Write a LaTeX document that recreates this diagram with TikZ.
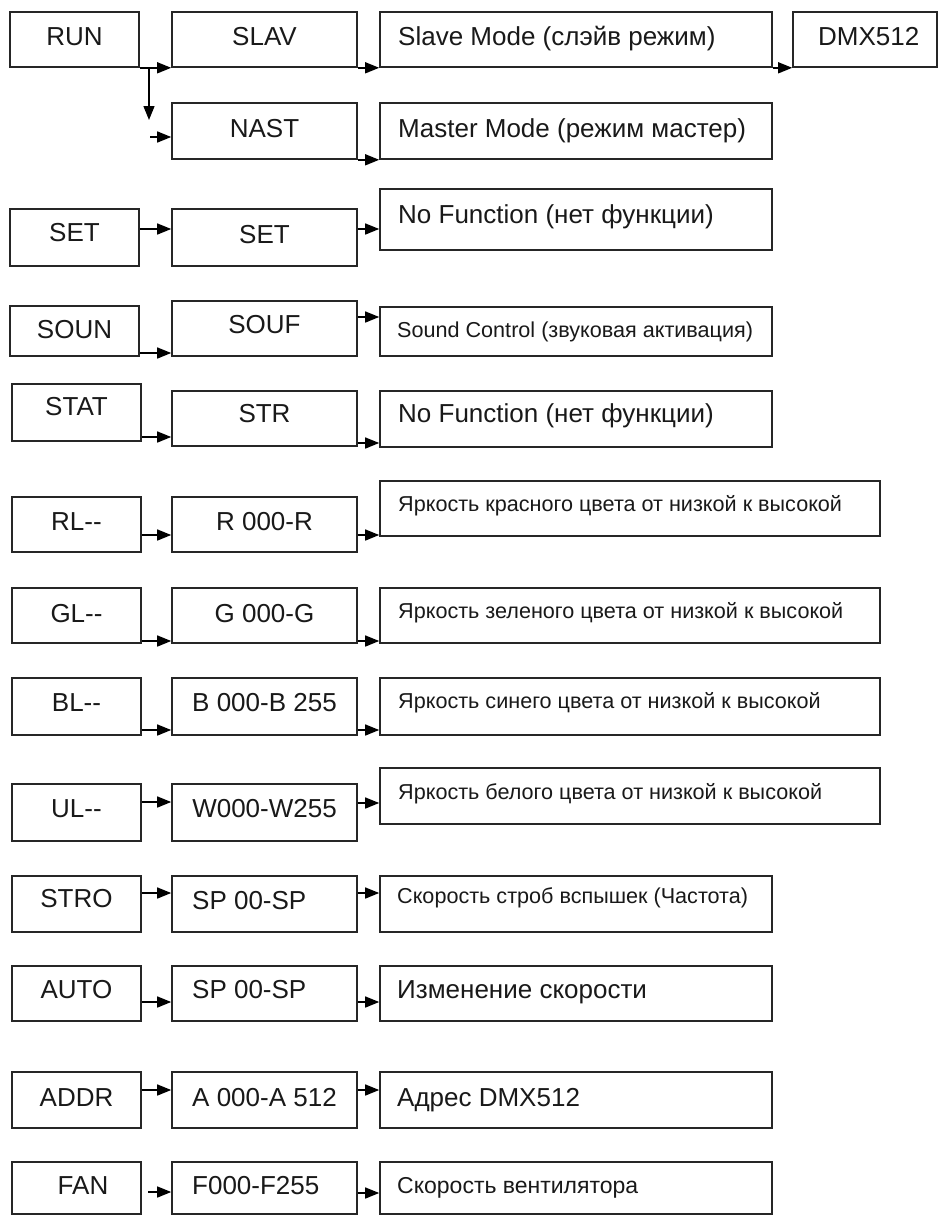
\documentclass[tikz,border=0pt]{standalone}
\usepackage{fontspec}
\setmainfont{Liberation Sans}
\usetikzlibrary{arrows.meta}
\newcommand\bx[5]{\node[boxst, minimum width={#4pt-#2pt}, minimum height={#5pt-#3pt}] (#1) at ({(#2+#4)/2},{(#3+#5)/2}) {};}
\begin{document}
\begin{tikzpicture}[x=1pt,y=-1pt,
  boxst/.style={draw=black!85, line width=1.6pt, inner sep=0pt, fill=white},
  big/.style={inner sep=0pt, font=\fontsize{26}{30}\selectfont, text=black!90},
  small/.style={inner sep=0pt, font=\fontsize{21.6}{26}\selectfont, text=black!90},
  mid/.style={inner sep=0pt, font=\fontsize{23}{27}\selectfont, text=black!90},
  arr/.style={line width=1.4pt, draw=black, -{Triangle[length=14pt,width=11pt]}}]
\useasboundingbox (0,0) rectangle (938,1216);
\fill[white] (0,0) rectangle (938,1216);
% ---- row RUN
\bx{RUN}{10}{12}{139}{67}
\bx{SLAV}{172}{12}{357}{67}
\bx{SLM}{380}{12}{772}{67}
\bx{DMX}{793}{12}{937}{67}
\node[big,anchor=base] (tRUN) at (74.5,45) {RUN};
\node[big,anchor=base] (tSLAV) at (264.5,45) {SLAV};
\node[big,anchor=base west] (tSLM) at (398,45) {Slave Mode (слэйв режим)};
\node[big,anchor=base west] (tDMX) at (818,45) {DMX512};
\bx{NAST}{172}{103}{357}{159}
\bx{MAS}{380}{103}{772}{159}
\node[big,anchor=base] (tNAST) at (264.5,137) {NAST};
\node[big,anchor=base west] (tMAS) at (398,137) {Master Mode (режим мастер)};
\draw[arr] (RUN.south east) -- (SLAV.south west);
\draw[arr] (SLAV.south east) -- (SLM.south west);
\draw[arr] (SLM.south east) -- (DMX.south west);
\coordinate (v1) at (149,67);
\coordinate (v2) at (149,120);
\draw[arr] (v1) -- (v2);
\coordinate (n0) at (150,137);
\draw[arr] (n0) -- (NAST.west |- n0);
\draw[arr] (NAST.south east) -- (MAS.south west);
% ---- row SET
\bx{SETL}{10}{209}{139}{266}
\bx{SETM}{172}{209}{357}{266}
\bx{NF1}{380}{189}{772}{250}
\node[big,anchor=base] (tSETL) at (74.5,241) {SET};
\node[big,anchor=base] (tSETM) at (264.5,243) {SET};
\node[big,anchor=base west] (tNF1) at (398,223) {No Function (нет функции)};
\draw[arr] (SETL.east |- 0,229) -- (SETM.west |- 0,229);
\draw[arr] (SETM.east |- 0,229) -- (NF1.west |- 0,229);
% ---- row SOUN
\bx{SOUN}{10}{306}{139}{356}
\bx{SOUF}{172}{301}{357}{356}
\bx{SND}{380}{307}{772}{356}
\node[big,anchor=base] (tSOUN) at (74.5,338) {SOUN};
\node[big,anchor=base] (tSOUF) at (264.5,333) {SOUF};
\node[small,anchor=base west] (tSND) at (397,337) {Sound Control (звуковая активация)};
\draw[arr] (SOUN.east |- 0,353) -- (SOUF.west |- 0,353);
\draw[arr] (SOUF.east |- 0,317) -- (SND.west |- 0,317);
% ---- row STAT
\bx{STAT}{12}{384}{141}{441}
\bx{STR}{172}{391}{357}{446}
\bx{NF2}{380}{391}{772}{447}
\node[big,anchor=base] (tSTAT) at (76.5,415) {STAT};
\node[big,anchor=base] (tSTR) at (264.5,422) {STR};
\node[big,anchor=base west] (tNF2) at (398,422) {No Function (нет функции)};
\draw[arr] (STAT.east |- 0,437) -- (STR.west |- 0,437);
\draw[arr] (STR.east |- 0,443) -- (NF2.west |- 0,443);
% ---- row RL
\bx{RL}{12}{497}{141}{552}
\bx{RR}{172}{497}{357}{552}
\bx{YR}{380}{481}{880}{536}
\node[big,anchor=base] (tRL) at (76.5,530) {RL-{}-};
\node[big,anchor=base] (tRR) at (264.5,530) {R 000-R};
\node[small,anchor=base west] (tYR) at (398,511) {Яркость красного цвета от низкой к высокой};
\draw[arr] (RL.east |- 0,535) -- (RR.west |- 0,535);
\draw[arr] (RR.east |- 0,535) -- (YR.west |- 0,535);
% ---- row GL
\bx{GL}{12}{588}{141}{643}
\bx{GG}{172}{588}{357}{643}
\bx{YG}{380}{588}{880}{643}
\node[big,anchor=base] (tGL) at (76.5,622) {GL-{}-};
\node[big,anchor=base] (tGG) at (264.5,622) {G 000-G};
\node[small,anchor=base west] (tYG) at (398,618) {Яркость зеленого цвета от низкой к высокой};
\draw[arr] (GL.east |- 0,641) -- (GG.west |- 0,641);
\draw[arr] (GG.east |- 0,641) -- (YG.west |- 0,641);
% ---- row BL
\bx{BL}{12}{678}{141}{735}
\bx{BB}{172}{678}{357}{735}
\bx{YB}{380}{678}{880}{735}
\node[big,anchor=base] (tBL) at (76.5,711) {BL-{}-};
\node[big,anchor=base] (tBB) at (264.5,711) {B 000-B 255};
\node[small,anchor=base west] (tYB) at (398,708) {Яркость синего цвета от низкой к высокой};
\draw[arr] (BL.east |- 0,730) -- (BB.west |- 0,730);
\draw[arr] (BB.east |- 0,730) -- (YB.west |- 0,730);
% ---- row UL
\bx{UL}{12}{784}{141}{841}
\bx{WW}{172}{784}{357}{841}
\bx{YW}{380}{768}{880}{824}
\node[big,anchor=base] (tUL) at (76.5,817) {UL-{}-};
\node[big,anchor=base] (tWW) at (264.5,817) {W000-W255};
\node[small,anchor=base west] (tYW) at (398,799) {Яркость белого цвета от низкой к высокой};
\draw[arr] (UL.east |- 0,802) -- (WW.west |- 0,802);
\draw[arr] (WW.east |- 0,803) -- (YW.west |- 0,803);
% ---- row STRO
\bx{STRO}{12}{876}{141}{932}
\bx{SPA}{172}{876}{357}{932}
\bx{SKS}{380}{876}{772}{932}
\node[big,anchor=base] (tSTRO) at (76.5,907) {STRO};
\node[big,anchor=base west] (tSPA) at (192,909) {SP 00-SP};
\node[small,anchor=base west] (tSKS) at (397,903) {Скорость строб вспышек (Частота)};
\draw[arr] (STRO.east |- 0,893) -- (SPA.west |- 0,893);
\draw[arr] (SPA.east |- 0,893) -- (SKS.west |- 0,893);
% ---- row AUTO
\bx{AUTO}{12}{966}{141}{1021}
\bx{SPB}{172}{966}{357}{1021}
\bx{IZM}{380}{966}{772}{1021}
\node[big,anchor=base] (tAUTO) at (76.5,998) {AUTO};
\node[big,anchor=base west] (tSPB) at (192,998) {SP 00-SP};
\node[big,anchor=base west] (tIZM) at (397,998) {Изменение скорости};
\draw[arr] (AUTO.east |- 0,1002) -- (SPB.west |- 0,1002);
\draw[arr] (SPB.east |- 0,1002) -- (IZM.west |- 0,1002);
% ---- row ADDR
\bx{ADDR}{12}{1072}{141}{1128}
\bx{AA}{172}{1072}{357}{1128}
\bx{ADR}{380}{1072}{772}{1128}
\node[big,anchor=base] (tADDR) at (76.5,1106) {ADDR};
\node[big,anchor=base] (tAA) at (264.5,1106) {A 000-A 512};
\node[big,anchor=base west] (tADR) at (397,1106) {Адрес DMX512};
\draw[arr] (ADDR.east |- 0,1090) -- (AA.west |- 0,1090);
\draw[arr] (AA.east |- 0,1090) -- (ADR.west |- 0,1090);
% ---- row FAN
\bx{FAN}{12}{1162}{141}{1214}
\bx{FF}{172}{1162}{357}{1214}
\bx{SKV}{380}{1162}{772}{1214}
\node[big,anchor=base] (tFAN) at (83,1194) {FAN};
\node[big,anchor=base west] (tFF) at (192,1194) {F000-F255};
\node[mid,anchor=base west] (tSKV) at (397,1193) {Скорость вентилятора};
\coordinate (f0) at (148,1192);
\draw[arr] (f0) -- (FF.west |- f0);
\draw[arr] (FF.east |- 0,1193) -- (SKV.west |- 0,1193);
\end{tikzpicture}
\end{document}
